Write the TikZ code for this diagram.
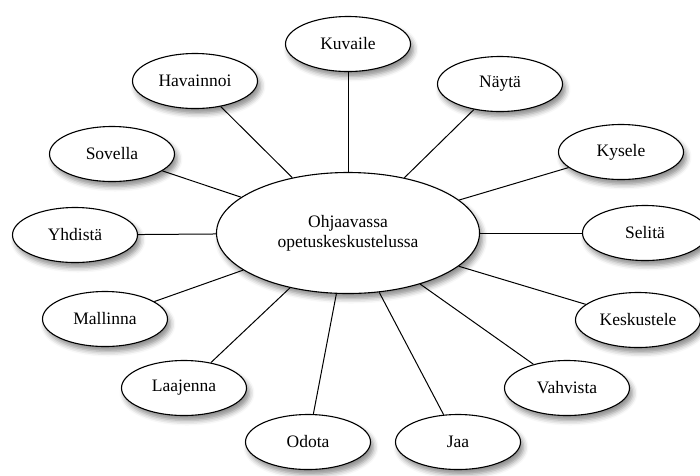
\documentclass[tikz,border=0pt]{standalone}
\usepackage{fontspec}
\setmainfont{Liberation Serif}
\usepackage{tikz}
\usetikzlibrary{shapes.geometric, shadows.blur}

\begin{document}
\begin{tikzpicture}[
  x=1pt, y=-1pt,
  every node/.style={font=\fontsize{17.5}{20}\selectfont},
  hub/.style={ellipse, draw, line width=1.1pt, fill=white, align=center,
              minimum width=263pt, minimum height=121pt, inner sep=0pt,
              blur shadow={shadow xshift=3pt, shadow yshift=-5pt,
                           shadow blur radius=5pt, shadow opacity=45}},
  leaf/.style={ellipse, draw, line width=1.1pt, fill=white,
               minimum width=125pt, minimum height=55pt, inner sep=0pt,
               blur shadow={shadow xshift=3pt, shadow yshift=-5pt,
                            shadow blur radius=5pt, shadow opacity=45}},
  link/.style={line width=1pt},
]
  \useasboundingbox (0,0) rectangle (700,475);

  \node[hub]  (hub)   at (348,233) {Ohjaavassa\\opetuskeskustelussa};

  \node[leaf] (kuvaile)    at (348,44)  {Kuvaile};
  \node[leaf] (nayta)      at (500,84)  {Näytä};
  \node[leaf] (havainnoi)  at (195,81)  {Havainnoi};
  \node[leaf] (kysele)     at (621,152) {Kysele};
  \node[leaf] (sovella)    at (112,154) {Sovella};
  \node[leaf] (selita)     at (645,233) {Selitä};
  \node[leaf] (yhdista)    at (75,235)  {Yhdistä};
  \node[leaf] (keskustele) at (638,320) {Keskustele};
  \node[leaf] (mallinna)   at (105,319) {Mallinna};
  \node[leaf] (vahvista)   at (567,388) {Vahvista};
  \node[leaf] (laajenna)   at (184,388) {Laajenna};
  \node[leaf] (jaa)        at (458,442) {Jaa};
  \node[leaf] (odota)      at (308,442) {Odota};

  \draw[link] (hub) -- (kuvaile);
  \draw[link] (hub) -- (nayta);
  \draw[link] (hub) -- (havainnoi);
  \draw[link] (hub) -- (kysele);
  \draw[link] (hub) -- (sovella);
  \draw[link] (hub) -- (selita);
  \draw[link] (hub) -- (yhdista);
  \draw[link] (hub) -- (keskustele);
  \draw[link] (hub) -- (mallinna);
  \draw[link] (hub) -- (vahvista);
  \draw[link] (hub) -- (laajenna);
  \draw[link] (hub) -- (jaa);
  \draw[link] (hub) -- (odota);

\end{tikzpicture}
\end{document}
